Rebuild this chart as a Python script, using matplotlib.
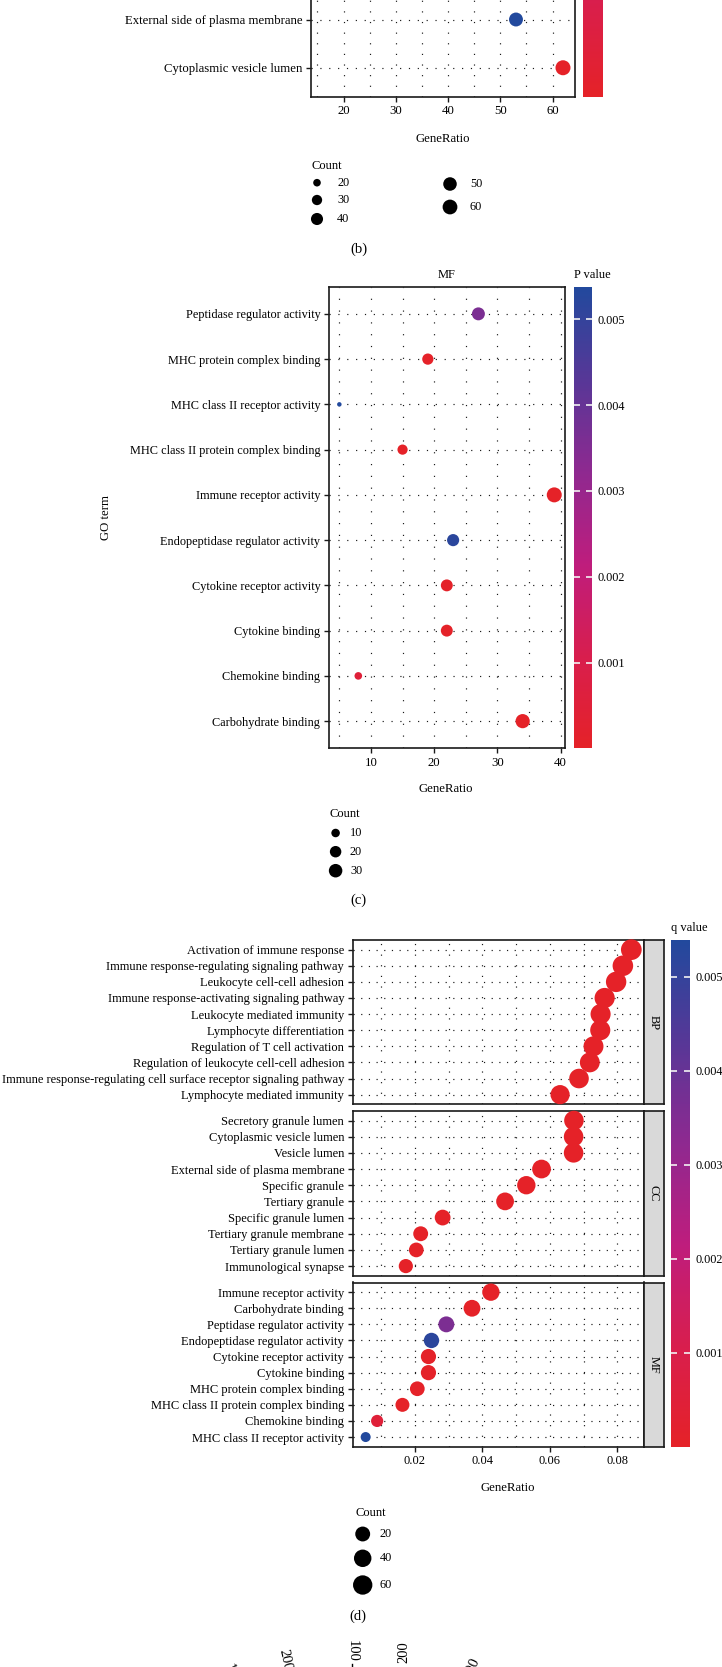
import numpy as np
import matplotlib
matplotlib.use('Agg')
import matplotlib.pyplot as plt
from matplotlib.colors import LinearSegmentedColormap, Normalize
from matplotlib.cm import ScalarMappable

plt.rcParams['font.family'] = ['Liberation Serif', 'DejaVu Serif']

W, H = 722, 1667

# ---------------- data ----------------
# panel (b): CC terms, bottom -> top, x axis shows Count
b_terms = ['Cytoplasmic vesicle lumen', 'External side of plasma membrane',
           'Immunological synapse', 'Secretory granule lumen', 'Specific granule',
           'Specific granule lumen', 'Tertiary granule', 'Tertiary granule lumen',
           'Tertiary granule membrane', 'Vesicle lumen']
b_count = [62, 53, 16, 62, 49, 26, 43, 19, 20, 62]
b_pvalue = [0.00002, 0.0079, 0.0001, 0.00001, 0.00003, 0.0002, 0.00004, 0.0003, 0.0002, 0.00001]

# panel (c): MF terms, top -> bottom
c_terms = ['Peptidase regulator activity', 'MHC protein complex binding',
           'MHC class II receptor activity', 'MHC class II protein complex binding',
           'Immune receptor activity', 'Endopeptidase regulator activity',
           'Cytokine receptor activity', 'Cytokine binding', 'Chemokine binding',
           'Carbohydrate binding']
c_count = [27, 19, 5, 15, 39, 23, 22, 22, 8, 34]
c_pvalue = [0.0036, 0.00003, 0.00538, 0.00002, 0.000001, 0.0052, 0.00005, 0.00006, 0.0005, 0.00001]

# panel (d): facets, top -> bottom
bp_terms = ['Activation of immune response', 'Immune response-regulating signaling pathway',
            'Leukocyte cell-cell adhesion', 'Immune response-activating signaling pathway',
            'Leukocyte mediated immunity', 'Lymphocyte differentiation',
            'Regulation of T cell activation', 'Regulation of leukocyte cell-cell adhesion',
            'Immune response-regulating cell surface receptor signaling pathway',
            'Lymphocyte mediated immunity']
bp_ratio = [0.0841, 0.0816, 0.0796, 0.0762, 0.0750, 0.0749, 0.0729, 0.0718, 0.0686, 0.0630]
bp_count = [77, 75, 73, 70, 69, 69, 67, 66, 63, 58]
bp_qvalue = [1e-9, 1e-9, 1e-8, 1e-8, 1e-8, 1e-8, 1e-8, 1e-8, 1e-7, 1e-7]

cc_terms = ['Secretory granule lumen', 'Cytoplasmic vesicle lumen', 'Vesicle lumen',
            'External side of plasma membrane', 'Specific granule', 'Tertiary granule',
            'Specific granule lumen', 'Tertiary granule membrane', 'Tertiary granule lumen',
            'Immunological synapse']
cc_ratio = [0.0671, 0.0670, 0.0670, 0.0575, 0.0530, 0.0467, 0.0282, 0.0217, 0.0204, 0.0173]
cc_count = [62, 62, 62, 53, 49, 43, 26, 20, 19, 16]
cc_qvalue = [1e-7, 1e-7, 1e-7, 1e-6, 1e-7, 1e-7, 1e-5, 1e-5, 1e-5, 2e-5]

mf_terms = ['Immune receptor activity', 'Carbohydrate binding', 'Peptidase regulator activity',
            'Endopeptidase regulator activity', 'Cytokine receptor activity', 'Cytokine binding',
            'MHC protein complex binding', 'MHC class II protein complex binding',
            'Chemokine binding', 'MHC class II receptor activity']
mf_ratio = [0.0425, 0.0369, 0.0293, 0.0249, 0.0240, 0.0240, 0.0207, 0.0163, 0.0088, 0.0054]
mf_count = [39, 34, 27, 23, 22, 22, 19, 15, 8, 5]
mf_qvalue = [1e-6, 1e-5, 0.0036, 0.0052, 5e-5, 6e-5, 3e-5, 2e-5, 0.0005, 0.00539]

# axis labels of the next (cut off) panel
e_labels = ['100', '200', '100', '200', '300']

# ---------------- helpers ----------------
cmap = LinearSegmentedColormap.from_list(
    'rb', [(0.0, '#E52228'), (0.2, '#D81E4E'), (0.4, '#BE1D7D'),
           (0.6, '#8E2990'), (0.8, '#573797'), (1.0, '#22499D')])


def rect(l, t, r, b):
    return [l / W, 1 - b / H, (r - l) / W, (b - t) / H]


def dot_area(count, cmin, cmax, dmin, dmax):
    frac = np.sqrt(np.clip((np.asarray(count, float) - cmin) / (cmax - cmin), 0, 1))
    return ((dmin + (dmax - dmin) * frac) * 0.72) ** 2


def style_panel(ax, xlim, major, grid, n, dash_x, dash_y, fs=9):
    ax.set_xlim(*xlim)
    ax.set_ylim(-0.6, n - 0.4)
    ax.set_xticks(major)
    ax.set_xticks(grid, minor=True)
    ax.grid(which='both', axis='x', color='#1A1A1A', lw=0.85, ls=(0, dash_x))
    ax.grid(which='major', axis='y', color='#1A1A1A', lw=0.85, ls=(0, dash_y))
    ax.set_axisbelow(True)
    for sp in ax.spines.values():
        sp.set_linewidth(1.2)
        sp.set_color('#1A1A1A')
    ax.tick_params(which='major', length=3.5, width=1.0, color='#1A1A1A', labelsize=fs, pad=2.5)
    ax.tick_params(which='minor', length=0)


def colorbar(l, t, r, b, vals, ticks, labels):
    cax = fig.add_axes(rect(l, t, r, b))
    sm = ScalarMappable(Normalize(min(vals), max(vals)), cmap)
    cb = fig.colorbar(sm, cax=cax, ticks=ticks)
    cb.outline.set_visible(False)
    cax.set_yticklabels(labels)
    cax.tick_params(axis='y', direction='in', length=4, width=1.2, color='#F2F2F2',
                    left=True, right=True, labelsize=8.8, pad=4)
    return cb


fig = plt.figure(figsize=(W / 100, H / 100), dpi=100)

ov = fig.add_axes([0, 0, 1, 1], zorder=5)
ov.set_xlim(0, W)
ov.set_ylim(H, 0)
ov.axis('off')
ov.patch.set_visible(False)

# ---------------- panel (b) ----------------
ax_b = fig.add_axes(rect(310.7, -395.4, 575, 96.7))
yb = np.arange(len(b_terms))
ax_b.scatter(b_count, yb, s=dot_area(b_count, 16, 62, 4.5, 15), c=b_pvalue, cmap=cmap,
             vmin=min(b_pvalue), vmax=max(b_pvalue), linewidths=0, zorder=3)
style_panel(ax_b, (13.7, 64.3), [20, 30, 40, 50, 60], np.arange(15, 65, 5), len(b_terms),
            (1, 8), (1, 6.5), fs=9.2)
ax_b.set_yticks(yb)
ax_b.set_yticklabels(b_terms)
colorbar(583, -395.4, 603, 96.7, b_pvalue, [0.002, 0.004, 0.006], ['0.002', '0.004', '0.006'])

ov.text(443, 139, 'GeneRatio', ha='center', va='center', fontsize=9.2)
ov.text(311, 165.7, 'Count', ha='left', va='center', fontsize=9)
b_leg = [20, 30, 40, 50, 60]
b_leg_x = [317, 317, 317, 450, 450]
b_leg_y = [182.7, 200, 219, 184, 207]
ov.scatter(b_leg_x, b_leg_y, s=dot_area(b_leg, 16, 62, 4.5, 15), color='black', linewidths=0)
for v, x, y in zip(b_leg, b_leg_x, b_leg_y):
    ov.text(x + 20, y, str(v), ha='left', va='center', fontsize=8.8)
ov.text(358.5, 249, '(b)', ha='center', va='center', fontsize=10.5)

# ---------------- panel (c) ----------------
ax_c = fig.add_axes(rect(328.6, 286.7, 565, 748.3))
yc = np.arange(len(c_terms))[::-1]
ax_c.scatter(c_count, yc, s=dot_area(c_count, 5, 39, 4.5, 15), c=c_pvalue, cmap=cmap,
             vmin=min(c_pvalue), vmax=max(c_pvalue), linewidths=0, zorder=3)
style_panel(ax_c, (3.3, 40.7), [10, 20, 30, 40], np.arange(5, 45, 5), len(c_terms),
            (1, 9), (1, 6.5), fs=8.8)
ax_c.set_yticks(yc)
ax_c.set_yticklabels(c_terms)
ax_c.tick_params(axis='x', labelsize=9.2)
colorbar(573.7, 286.7, 592.2, 748.3, c_pvalue, [0.001, 0.002, 0.003, 0.004, 0.005],
         ['0.001', '0.002', '0.003', '0.004', '0.005'])

ov.text(446.8, 275, 'MF', ha='center', va='center', fontsize=9)
ov.text(574, 275, 'P value', ha='left', va='center', fontsize=9)
ov.text(446, 789, 'GeneRatio', ha='center', va='center', fontsize=9.2)
ov.text(106, 517.5, 'GO term', ha='center', va='center', rotation=90, fontsize=9.2)
ov.text(329.5, 814, 'Count', ha='left', va='center', fontsize=9)
c_leg = [10, 20, 30]
c_leg_y = [833, 851.7, 870.7]
ov.scatter([335.6] * 3, c_leg_y, s=dot_area(c_leg, 5, 39, 4.5, 15), color='black', linewidths=0)
for v, y in zip(c_leg, c_leg_y):
    ov.text(350, y, str(v), ha='left', va='center', fontsize=8.8)
ov.text(358, 900, '(c)', ha='center', va='center', fontsize=10.5)

# ---------------- panel (d) ----------------
facets = [('BP', bp_terms, bp_ratio, bp_count, bp_qvalue, 940, 1104.3),
          ('CC', cc_terms, cc_ratio, cc_count, cc_qvalue, 1110.8, 1275.8),
          ('MF', mf_terms, mf_ratio, mf_count, mf_qvalue, 1282.5, 1446.7)]
q_all = bp_qvalue + cc_qvalue + mf_qvalue
for name, terms, ratio, count, qv, top, bottom in facets:
    ax = fig.add_axes(rect(352.5, top, 643.8, bottom))
    y = np.arange(len(terms))[::-1]
    ax.scatter(ratio, y, s=dot_area(count, 5, 77, 10, 20.7), c=qv, cmap=cmap,
               vmin=min(q_all), vmax=max(q_all), linewidths=0, zorder=3, clip_on=False)
    style_panel(ax, (0.0015, 0.0878), [0.02, 0.04, 0.06, 0.08], np.arange(0.01, 0.085, 0.01),
                len(terms), (1, 8), (1, 5.5), fs=9.0)
    ax.set_yticks(y)
    ax.set_yticklabels(terms)
    if name == 'MF':
        ax.set_xticklabels(['0.02', '0.04', '0.06', '0.08'])
    else:
        ax.tick_params(axis='x', bottom=False, labelbottom=False)
    sax = fig.add_axes(rect(643.8, top, 663.6, bottom))
    sax.set_facecolor('#D9D9D9')
    sax.set_xticks([])
    sax.set_yticks([])
    for sp in sax.spines.values():
        sp.set_linewidth(1.2)
        sp.set_color('#1A1A1A')
    sax.text(0.5, 0.5, name, rotation=-90, ha='center', va='center', fontsize=8.8,
             transform=sax.transAxes)

colorbar(671, 940, 690, 1446.7, q_all, [0.001, 0.002, 0.003, 0.004, 0.005],
         ['0.001', '0.002', '0.003', '0.004', '0.005'])
ov.text(671, 927.5, 'q value', ha='left', va='center', fontsize=9)
ov.text(507.8, 1488.3, 'GeneRatio', ha='center', va='center', fontsize=9.2)
ov.text(355, 1513.3, 'Count', ha='left', va='center', fontsize=9)
d_leg = [20, 40, 60]
d_leg_y = [1534, 1558.3, 1585]
ov.scatter([362.7] * 3, d_leg_y, s=dot_area(d_leg, 5, 77, 10, 20.7), color='black', linewidths=0)
for v, y in zip(d_leg, d_leg_y):
    ov.text(380, y, str(v), ha='left', va='center', fontsize=8.8)
ov.text(358, 1616.7, '(d)', ha='center', va='center', fontsize=10.5)

# ---------------- next panel, cut off at the bottom ----------------
e_x = [233, 285, 352, 404, 472]
e_top = [1662, 1648, 1640, 1641, 1656]
e_rot = [-60, -78, -90, 90, 65]
for lab, x, t, r in zip(e_labels, e_x, e_top, e_rot):
    ov.text(x, t, lab, rotation=r, ha='center', va='top', fontsize=10.5)
ov.plot([352, 352], [1664, 1667], color='black', lw=1)

fig.savefig('out.png', dpi=100)
